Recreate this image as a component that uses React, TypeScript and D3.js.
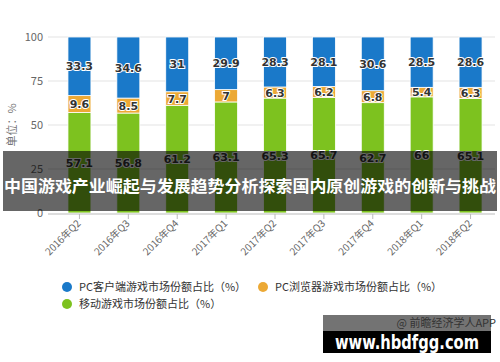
import React, { useEffect, useRef } from "react";
import * as d3 from "d3";

const quarters = ["2016年Q2", "2016年Q3", "2016年Q4", "2017年Q1", "2017年Q2", "2017年Q3", "2017年Q4", "2018年Q1", "2018年Q2"];
const mobileShare = [57.1, 56.8, 61.2, 63.1, 65.3, 65.7, 62.7, 66, 65.1];
const browserShare = [9.6, 8.5, 7.7, 7, 6.3, 6.2, 6.8, 5.4, 6.3];
const clientShare = [33.3, 34.6, 31, 29.9, 28.3, 28.1, 30.6, 28.5, 28.6];
const yTicks = [0, 25, 50, 75, 100];
const seriesNames = ["PC客户端游戏市场份额占比（%）", "PC浏览器游戏市场份额占比（%）", "移动游戏市场份额占比（%）"];
const title = "中国游戏产业崛起与发展趋势分析探索国内原创游戏的创新与挑战";

const W = 500, H = 362;
const FONT = "'Noto Sans CJK SC', 'Noto Sans', sans-serif";

export default function App() {
  const ref = useRef<SVGSVGElement>(null);

  useEffect(() => {
    const svg = d3.select(ref.current);
    svg.selectAll("*").remove();

    const x = d3.scaleBand().domain(quarters).range([55, 495]).paddingInner(0.53).paddingOuter(0.265);
    const y = d3.scaleLinear().domain([0, 100]).range([213, 37]);

    // grid + y labels
    const g = svg.append("g");
    g.selectAll("line.grid").data(yTicks.filter(d => d > 0)).enter().append("line")
      .attr("x1", 48).attr("x2", 495)
      .attr("y1", d => y(d)).attr("y2", d => y(d))
      .attr("stroke", "#e3e3e3").attr("stroke-width", 1);
    g.selectAll("text.yl").data(yTicks).enter().append("text")
      .attr("x", 43).attr("y", d => y(d) + 4)
      .attr("text-anchor", "end").attr("font-size", 11).attr("fill", "#666")
      .attr("font-family", FONT).text(d => d);
    svg.append("text")
      .attr("transform", `translate(16,${125}) rotate(-90)`)
      .attr("text-anchor", "middle").attr("font-size", 11).attr("fill", "#777")
      .attr("font-family", FONT).text("单位：%");

    // stacks
    const stacks = quarters.map((q, i) => [
      { v0: 0, v1: mobileShare[i], c: "#7dc21f" },
      { v0: mobileShare[i], v1: mobileShare[i] + browserShare[i], c: "#eca935" },
      { v0: mobileShare[i] + browserShare[i], v1: 100, c: "#1a79c9" },
    ]);
    const vals = [mobileShare, browserShare, clientShare];
    quarters.forEach((q, i) => {
      stacks[i].forEach(s => {
        svg.append("rect")
          .attr("x", x(q)!).attr("width", x.bandwidth())
          .attr("y", y(s.v1)).attr("height", y(s.v0) - y(s.v1))
          .attr("fill", s.c).attr("stroke", "#fff").attr("stroke-width", 0.8);
      });
    });
    quarters.forEach((q, i) => {
      stacks[i].forEach((s, k) => {
        svg.append("text")
          .attr("x", x(q)! + x.bandwidth() / 2).attr("y", y((s.v0 + s.v1) / 2) + 4)
          .attr("text-anchor", "middle").attr("font-size", 11).attr("font-weight", "bold")
          .attr("font-family", "'DejaVu Sans', sans-serif")
          .attr("fill", "#333").attr("stroke", "#fff").attr("stroke-width", 2)
          .attr("paint-order", "stroke").text(vals[k][i]);
      });
    });

    // x axis
    svg.append("line").attr("x1", 48).attr("x2", 495).attr("y1", 214).attr("y2", 214)
      .attr("stroke", "#bbb");
    quarters.forEach(q => {
      const cx = x(q)! + x.bandwidth() / 2;
      svg.append("line").attr("x1", cx).attr("x2", cx).attr("y1", 214).attr("y2", 219).attr("stroke", "#bbb");
      svg.append("text")
        .attr("transform", `translate(${cx + 2},${224}) rotate(-45)`)
        .attr("text-anchor", "end").attr("font-size", 10).attr("fill", "#666")
        .attr("font-family", FONT).text(q);
    });

    // legend
    const legend = [
      { x: 67, y: 287, c: "#1a79c9", t: seriesNames[0] },
      { x: 263, y: 287, c: "#eca935", t: seriesNames[1] },
      { x: 67, y: 304, c: "#7dc21f", t: seriesNames[2] },
    ];
    legend.forEach(l => {
      svg.append("circle").attr("cx", l.x).attr("cy", l.y).attr("r", 5).attr("fill", l.c);
      svg.append("text").attr("x", l.x + 12).attr("y", l.y + 4)
        .attr("font-size", 11).attr("fill", "#333").attr("font-family", FONT).text(l.t);
    });

    // banner
    svg.append("rect").attr("x", 3).attr("y", 151).attr("width", 494).attr("height", 60)
      .attr("fill", "rgba(0,0,0,0.6)");
    svg.append("text").attr("x", 250).attr("y", 192)
      .attr("text-anchor", "middle").attr("font-size", 16.4).attr("font-weight", "bold")
      .attr("fill", "#fff").attr("font-family", FONT)
      .attr("textLength", 492).attr("lengthAdjust", "spacingAndGlyphs").text(title);

    // watermark box
    svg.append("rect").attr("x", 323).attr("y", 315).attr("width", 168).attr("height", 16)
      .attr("fill", "rgba(0,0,0,0.55)");
    svg.append("rect").attr("x", 323).attr("y", 331).attr("width", 168).attr("height", 22)
      .attr("fill", "#000");
    svg.append("text").attr("x", 496).attr("y", 327).attr("text-anchor", "end")
      .attr("font-size", 11).attr("fill", "#333").attr("font-family", FONT).text("@ 前瞻经济学人APP");
    svg.append("text").attr("x", 335).attr("y", 349)
      .attr("font-size", 19).attr("font-weight", "bold").attr("fill", "#fff")
      .attr("font-family", "'DejaVu Sans', sans-serif")
      .attr("textLength", 144).attr("lengthAdjust", "spacingAndGlyphs").text("www.hbdfgg.com");
  }, []);

  return (
    <svg ref={ref} width={W} height={H}
      style={{ position: "absolute", left: 0, top: 0, background: "#fff" }} />
  );
}
